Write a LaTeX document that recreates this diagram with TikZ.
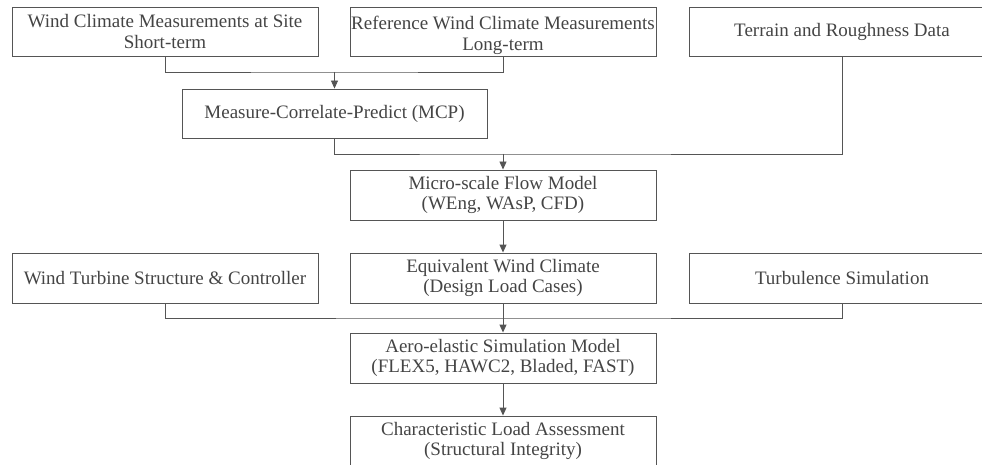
\documentclass[tikz,border=0pt]{standalone}
\usepackage{fontspec}
\setmainfont{Liberation Serif}
\usetikzlibrary{arrows.meta}
\definecolor{lc}{RGB}{85,85,85}
\definecolor{tc}{RGB}{68,68,68}
\tikzset{
  box/.style={draw=lc, line width=0.9pt, minimum width=306pt, minimum height=49pt, inner sep=0pt,
    align=center, text=tc, font=\fontsize{19}{20.5}\selectfont},
  txt/.style={inner sep=0pt, align=center, text=tc, font=\fontsize{19}{20.5}\selectfont},
  conn/.style={draw=lc, line width=0.9pt},
  arr/.style={conn, -{Triangle[length=8pt,width=7pt]}}
}
\begin{document}
\begin{tikzpicture}[x=1pt,y=1pt]
\useasboundingbox (0,0) rectangle (982,464);
\clip (0,0) rectangle (982,464);
% top row
\node[box] (b1) at (165,432.5) {Wind Climate Measurements at Site\\Short-term};
\node[box] (b2) at (503,432.5) {};
\node[txt] (b2t) at (503,428.5) {Reference Wind Climate Measurements\\Long-term};
\node[box] (b3) at (842,432.5) {Terrain and Roughness Data};
% MCP
\node[box, minimum width=305pt] (mcp) at (334.5,350.5) {Measure-Correlate-Predict (MCP)};
% micro
\node[box, minimum height=50pt] (micro) at (503,269) {Micro-scale Flow Model\\(WEng, WAsP, CFD)};
% middle row
\node[box, minimum height=50pt] (eq) at (503,186) {Equivalent Wind Climate\\(Design Load Cases)};
\node[box, minimum height=50pt] (wt) at (165,186) {Wind Turbine Structure \& Controller};
\node[box, minimum height=50pt] (tu) at (842,186) {Turbulence Simulation};
% aero
\node[box, minimum height=50pt] (aero) at (503,106) {Aero-elastic Simulation Model\\(FLEX5, HAWC2, Bladed, FAST)};
\node[box, minimum height=50pt] (ch) at (503,23) {Characteristic Load Assessment\\(Structural Integrity)};
% junctions
\coordinate (j1) at (334.5,392);
\coordinate (j2) at (503,310);
\coordinate (j3) at (503,146);
% connectors
\draw[conn] (b1.south) |- (j1) -| (b2.south);
\draw[arr] (j1) -- (mcp.north);
\draw[conn] (mcp.south) |- (j2) -| (b3.south);
\draw[arr] (j2) -- (micro.north);
\draw[arr] (micro.south) -- (eq.north);
\draw[conn] (wt.south) |- (j3) -| (tu.south);
\draw[arr] (eq.south) -- (aero.north);
\draw[arr] (aero.south) -- (ch.north);
\end{tikzpicture}
\end{document}
